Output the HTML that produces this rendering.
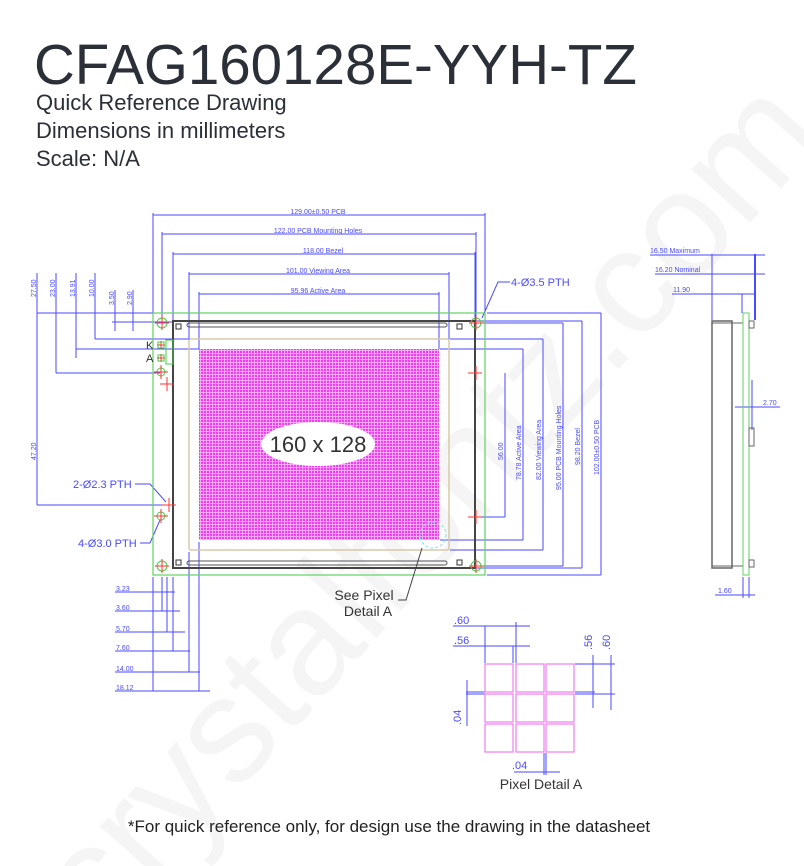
<!DOCTYPE html>
<html><head><meta charset="utf-8"><style>
html,body{margin:0;padding:0;background:#fff;width:804px;height:866px;overflow:hidden}
svg{display:block}
</style></head><body>
<svg width="804" height="866" viewBox="0 0 804 866" xmlns="http://www.w3.org/2000/svg" font-family="Liberation Sans, sans-serif" overflow="hidden">
<text x="420" y="560" font-size="150" fill="#f5f5f5" text-anchor="middle" transform="rotate(-48 420 500)">crystalfontz.com</text>
<text x="34" y="84" font-size="56.5" fill="#2b2f38">CFAG160128E-YYH-TZ</text>
<text x="36" y="110" font-size="22" fill="#2b2f38">Quick Reference Drawing</text>
<text x="36" y="138" font-size="22" fill="#2b2f38">Dimensions in millimeters</text>
<text x="36" y="166" font-size="22" fill="#2b2f38">Scale: N/A</text>

<g stroke="#4a4aff" stroke-width="1" fill="none">
<line x1="153" y1="215" x2="485" y2="215"/><line x1="153" y1="213" x2="153" y2="313"/><line x1="485" y1="213" x2="485" y2="313"/>
<line x1="162" y1="234" x2="476" y2="234"/><line x1="162" y1="232" x2="162" y2="318"/><line x1="476" y1="232" x2="476" y2="318"/>
<line x1="173" y1="254" x2="475" y2="254"/><line x1="173" y1="252" x2="173" y2="321"/><line x1="475" y1="252" x2="475" y2="321"/>
<line x1="189" y1="274" x2="449" y2="274"/><line x1="189" y1="272" x2="189" y2="339"/><line x1="449" y1="272" x2="449" y2="339"/>
<line x1="199" y1="294" x2="439" y2="294"/><line x1="199" y1="292" x2="199" y2="349"/><line x1="439" y1="292" x2="439" y2="349"/>
<line x1="37" y1="273" x2="37" y2="505"/><line x1="37" y1="313" x2="153" y2="313"/><line x1="37" y1="505" x2="165" y2="505"/>
<line x1="56" y1="273" x2="56" y2="373"/><line x1="56" y1="373" x2="160" y2="373"/>
<line x1="76" y1="273" x2="76" y2="358"/><line x1="76" y1="349" x2="199" y2="349"/>
<line x1="95" y1="273" x2="95" y2="339"/><line x1="95" y1="339" x2="189" y2="339"/>
<line x1="115" y1="290" x2="115" y2="331"/><line x1="112" y1="322" x2="173" y2="322"/>
<line x1="133" y1="290" x2="133" y2="331"/>
<line x1="505" y1="373" x2="505" y2="517"/><line x1="480" y1="517" x2="505" y2="517"/>
<line x1="523" y1="349" x2="523" y2="540"/><line x1="440" y1="540" x2="523" y2="540"/><line x1="440" y1="349" x2="523" y2="349"/>
<line x1="543" y1="339" x2="543" y2="550"/><line x1="450" y1="550" x2="543" y2="550"/><line x1="450" y1="339" x2="543" y2="339"/>
<line x1="563" y1="323" x2="563" y2="566"/><line x1="480" y1="566" x2="563" y2="566"/><line x1="480" y1="323" x2="563" y2="323"/>
<line x1="582" y1="321" x2="582" y2="568"/><line x1="476" y1="568" x2="582" y2="568"/><line x1="476" y1="321" x2="582" y2="321"/>
<line x1="601" y1="313" x2="601" y2="575"/><line x1="487" y1="575" x2="601" y2="575"/><line x1="487" y1="313" x2="601" y2="313"/>
<line x1="115" y1="592" x2="175" y2="592"/><line x1="115" y1="611" x2="180" y2="611"/>
<line x1="115" y1="632" x2="185" y2="632"/><line x1="115" y1="651" x2="190" y2="651"/>
<line x1="115" y1="672" x2="200" y2="672"/><line x1="115" y1="691" x2="210" y2="691"/>
<line x1="153" y1="577" x2="153" y2="691"/><line x1="162" y1="577" x2="162" y2="611"/>
<line x1="167" y1="577" x2="167" y2="632"/><line x1="173" y1="577" x2="173" y2="651"/>
<line x1="189" y1="552" x2="189" y2="672"/><line x1="199" y1="542" x2="199" y2="691"/>
<polyline points="510,282 498,282 482,318"/>
<polyline points="135,484 150,484 166,502"/>
<polyline points="140,543 150,543 160,520"/>
<line x1="650" y1="255" x2="765" y2="255"/><line x1="655" y1="274" x2="765" y2="274"/><line x1="672" y1="294" x2="755" y2="294"/>
<line x1="712" y1="254" x2="712" y2="320"/><line x1="755" y1="254" x2="755" y2="320" stroke-width="2"/><line x1="742" y1="294" x2="742" y2="313"/>
<line x1="735" y1="407" x2="780" y2="407"/><line x1="752" y1="380" x2="752" y2="430"/>
<line x1="715" y1="595" x2="755" y2="595"/><line x1="743" y1="577" x2="743" y2="598"/><line x1="749" y1="577" x2="749" y2="598"/>
<line x1="453" y1="626" x2="530" y2="626"/><line x1="485" y1="626" x2="485" y2="663"/><line x1="516" y1="622" x2="516" y2="663"/>
<line x1="453" y1="646" x2="530" y2="646"/><line x1="513" y1="646" x2="513" y2="663"/>
<line x1="575" y1="664" x2="615" y2="664"/><line x1="575" y1="694" x2="615" y2="694"/><line x1="575" y1="692" x2="595" y2="692"/>
<line x1="593" y1="655" x2="593" y2="708"/><line x1="611" y1="655" x2="611" y2="710"/>
<line x1="466" y1="692" x2="485" y2="692"/><line x1="466" y1="694" x2="485" y2="694"/><line x1="467" y1="680" x2="467" y2="726"/>
<line x1="514" y1="772" x2="560" y2="772"/><line x1="544" y1="753" x2="544" y2="775"/><line x1="546" y1="753" x2="546" y2="775"/>
</g>
<g fill="#4a4aff" font-size="7">
<text x="318" y="214" text-anchor="middle">129.00±0.50 PCB</text>
<text x="318" y="233" text-anchor="middle">122.00 PCB Mounting Holes</text>
<text x="323" y="253" text-anchor="middle">118.00 Bezel</text>
<text x="318" y="273" text-anchor="middle">101.00 Viewing Area</text>
<text x="318" y="293" text-anchor="middle">95.96 Active Area</text>
<text transform="translate(36 297) rotate(-90)">27.50</text>
<text transform="translate(55 297) rotate(-90)">23.00</text>
<text transform="translate(75 297) rotate(-90)">13.91</text>
<text transform="translate(94 297) rotate(-90)">10.00</text>
<text transform="translate(114 305) rotate(-90)">3.50</text>
<text transform="translate(132 305) rotate(-90)">2.90</text>
<text transform="translate(36 460) rotate(-90)">47.20</text>
<text transform="translate(503 460) rotate(-90)">56.00</text>
<text transform="translate(521 480) rotate(-90)">78.78 Active Area</text>
<text transform="translate(541 480) rotate(-90)">82.00 Viewing Area</text>
<text transform="translate(561 490) rotate(-90)">95.00 PCB Mounting Holes</text>
<text transform="translate(580 465) rotate(-90)">98.20 Bezel</text>
<text transform="translate(599 475) rotate(-90)">102.00±0.50 PCB</text>
<text x="116" y="591">3.23</text><text x="116" y="610">3.60</text><text x="116" y="631">5.70</text>
<text x="116" y="650">7.60</text><text x="116" y="671">14.00</text><text x="116" y="690">18.12</text>
<text x="650" y="253">16.50 Maximum</text><text x="655" y="272">16.20 Nominal</text><text x="673" y="292">11.90</text>
<text x="763" y="405">2.70</text><text x="718" y="593">1.60</text>
</g>
<g fill="#4a4aff" font-size="11">
<text x="511" y="286">4-Ø3.5 PTH</text>
<text x="73" y="488">2-Ø2.3 PTH</text>
<text x="78" y="547">4-Ø3.0 PTH</text>
<text x="454" y="624">.60</text><text x="454" y="644">.56</text>
<text x="461" y="725" transform="rotate(-90 461 725)">.04</text>
<text transform="translate(592 650) rotate(-90)">.56</text>
<text transform="translate(610 650) rotate(-90)">.60</text>
<text x="512" y="769">.04</text>
</g>
<rect x="153" y="313" width="332" height="262" fill="none" stroke="#5fd35f" stroke-width="1.2"/>
<rect x="173" y="321" width="302" height="247" fill="none" stroke="#444" stroke-width="2"/>
<rect x="187" y="323" width="260" height="4" rx="2" fill="none" stroke="#555"/>
<rect x="187" y="561" width="260" height="4" rx="2" fill="none" stroke="#555"/>
<rect x="176" y="324" width="5" height="5" fill="none" stroke="#333"/><rect x="457" y="324" width="5" height="5" fill="none" stroke="#333"/>
<rect x="176" y="560" width="5" height="5" fill="none" stroke="#333"/><rect x="457" y="560" width="5" height="5" fill="none" stroke="#333"/>
<rect x="189" y="339" width="260" height="211" fill="none" stroke="#d8c8a8" stroke-width="1.5" rx="2"/>
<defs><pattern id="px" width="3" height="3" patternUnits="userSpaceOnUse"><rect width="3" height="3" fill="#f8a8f8"/><rect width="2" height="2" fill="#f03cf0"/></pattern></defs>
<rect x="199" y="349" width="240" height="191" fill="url(#px)"/>
<ellipse cx="318" cy="444" rx="57" ry="22" fill="#fff"/>
<text x="318" y="452" font-size="22" fill="#333" text-anchor="middle">160 x 128</text>
<circle cx="433" cy="535" r="13" fill="none" stroke="#7fe0f0" stroke-dasharray="3,2"/>
<polyline points="422,548 406,600 398,600" fill="none" stroke="#444"/>
<text x="364" y="600" font-size="14" fill="#333" text-anchor="middle">See Pixel</text>
<text x="368" y="616" font-size="14" fill="#333" text-anchor="middle">Detail A</text>
<g fill="none" stroke-width="1">
<circle cx="162" cy="323" r="5" stroke="#4c4"/><circle cx="476" cy="323" r="5" stroke="#4c4"/>
<circle cx="162" cy="566" r="5" stroke="#4c4"/><circle cx="476" cy="566" r="5" stroke="#4c4"/>
<circle cx="161" cy="372" r="4" stroke="#4c4"/><circle cx="161" cy="516" r="4" stroke="#4c4"/>
<g stroke="#f33">
<path d="M155 323h14M162 316v14M469 323h14M476 316v14M155 566h14M162 559v14M469 566h14M476 559v14"/>
<path d="M160 384h14M167 377v14M162 505h14M169 498v14M154 516h14M161 509v14"/>
<path d="M468 373h14M476 366v14M468 517h14M476 510v14M154 372h14M161 365v14"/>
<path d="M157 345h8M161 341v8M157 358h8M161 354v8"/>
</g>
<rect x="158" y="342" width="6" height="6" stroke="#4c4"/><rect x="158" y="355" width="6" height="6" stroke="#4c4"/>
<rect x="166" y="340" width="7" height="24" stroke="#4c4"/>
</g>
<text x="146" y="349" font-size="11" fill="#333">K</text>
<text x="146" y="362" font-size="11" fill="#333">A</text>
<rect x="712" y="321" width="20" height="247" fill="none" stroke="#666" stroke-width="1.5"/>
<line x1="712" y1="323" x2="743" y2="323" stroke="#666"/><line x1="712" y1="566" x2="743" y2="566" stroke="#666"/>
<rect x="743" y="313" width="6" height="262" fill="none" stroke="#5fd35f"/>
<rect x="749" y="428" width="5" height="18" fill="none" stroke="#666"/>
<rect x="749" y="560" width="5" height="7" fill="none" stroke="#666"/>
<rect x="749" y="321" width="5" height="7" fill="none" stroke="#666"/>
<g fill="none" stroke="#f07bf0" stroke-width="1.2">
<rect x="485" y="664" width="28" height="28"/><rect x="516" y="664" width="28" height="28"/><rect x="546" y="664" width="28" height="28"/>
<rect x="485" y="694" width="28" height="28"/><rect x="516" y="694" width="28" height="28"/><rect x="546" y="694" width="28" height="28"/>
<rect x="485" y="724" width="28" height="28"/><rect x="516" y="724" width="28" height="28"/><rect x="546" y="724" width="28" height="28"/>
</g>
<text x="541" y="789" font-size="14" fill="#333" text-anchor="middle">Pixel Detail A</text>
<text x="389" y="832" font-size="17" fill="#222" text-anchor="middle">*For quick reference only, for design use the drawing in the datasheet</text>
</svg>
</body></html>
